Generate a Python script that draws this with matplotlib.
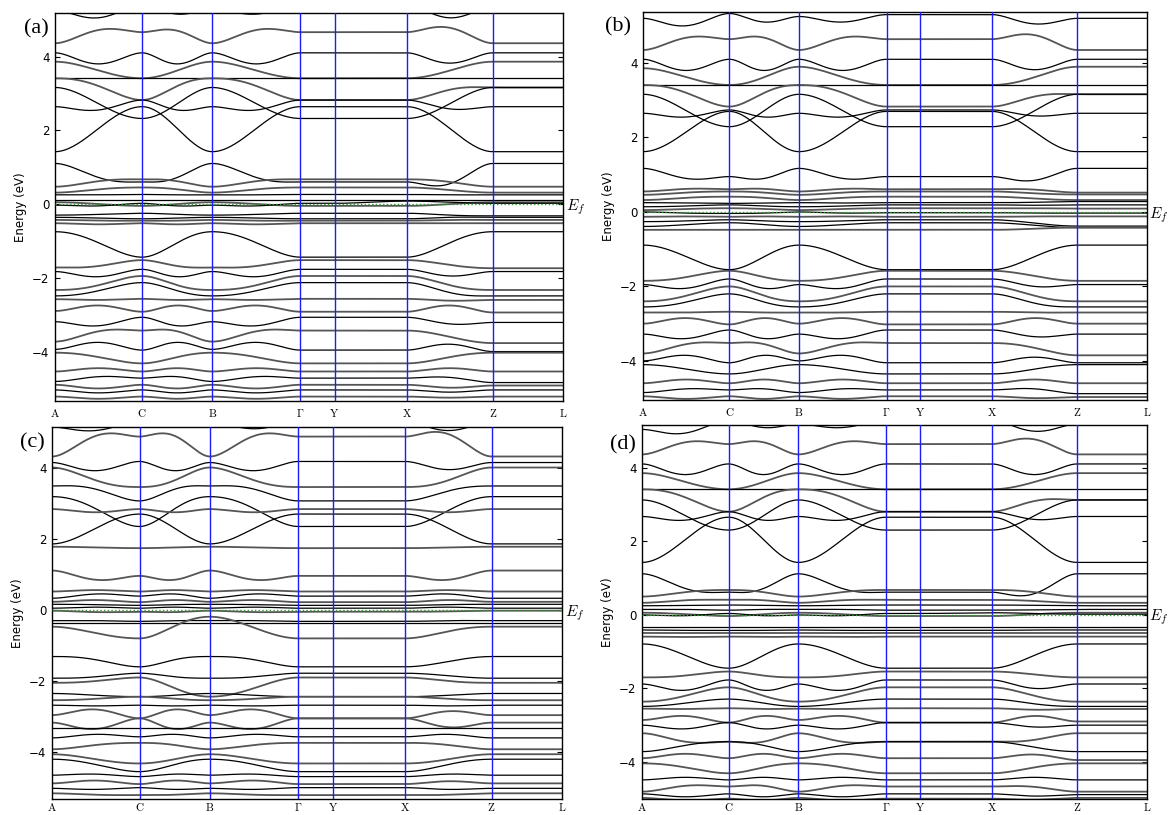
import numpy as np
import matplotlib
matplotlib.use("Agg")
import matplotlib.pyplot as plt

plt.rcParams['mathtext.fontset'] = 'cm'

# k-path (high-symmetry points) and their labels
KTICKS = [0, 87, 157, 245, 279, 351, 437, 507]
KLABELS = [r'$\mathrm{A}$', r'$\mathrm{C}$', r'$\mathrm{B}$', r'$\Gamma$', r'$\mathrm{Y}$',
           r'$\mathrm{X}$', r'$\mathrm{Z}$', r'$\mathrm{L}$']

# Each band: energies (eV) at [A, mid A-C, C, mid C-B, B, mid B-G, G(=Y), X, mid X-Z, Z(=L)]
# spin flag: 'k' = black channel, 'g' = grey channel
bands_a = [
    [5.25, 5.05, 5.40, 5.15, 5.30, 5.15, 5.40, 5.40, 5.05, 5.35],
    [4.36, 4.72, 4.66, 4.70, 4.36, 4.72, 4.66, 4.66, 4.78, 4.36],
    [4.10, 3.80, 4.10, 3.80, 4.10, 3.80, 4.10, 4.10, 3.82, 4.10],
    [3.86, 3.62, 3.41, 3.62, 3.86, 3.62, 3.41, 3.41, 3.62, 3.86],
    [3.41, 3.41, 3.41, 3.41, 3.41, 3.41, 3.41, 3.41, 3.41, 3.41],
    [3.41, 3.20, 2.82, 3.20, 3.41, 3.20, 2.82, 2.82, 3.10, 3.16],
    [3.16, 2.72, 2.32, 2.72, 3.16, 2.72, 2.32, 2.32, 2.72, 3.16],
    [2.64, 2.55, 2.82, 2.55, 2.64, 2.55, 2.82, 2.82, 2.58, 2.64],
    [1.42, 2.05, 2.64, 2.05, 1.42, 2.05, 2.64, 2.64, 2.05, 1.42],
    [1.10, 0.72, 0.60, 0.72, 1.10, 0.72, 0.60, 0.60, 0.55, 1.10],
    [0.47, 0.62, 0.67, 0.62, 0.47, 0.62, 0.67, 0.67, 0.60, 0.47],
    [0.31, 0.40, 0.45, 0.40, 0.31, 0.40, 0.45, 0.45, 0.38, 0.31],
    [0.25, 0.25, 0.26, 0.25, 0.25, 0.25, 0.26, 0.26, 0.25, 0.25],
    [0.11, 0.11, 0.11, 0.11, 0.11, 0.11, 0.11, 0.11, 0.11, 0.11],
    [0.05, 0.00, -0.05, 0.00, 0.05, 0.00, -0.05, -0.05, 0.00, 0.05],
    [-0.03, -0.05, 0.02, -0.05, -0.03, -0.05, 0.02, 0.08, 0.05, 0.02],
    [-0.30, -0.28, -0.25, -0.28, -0.30, -0.28, -0.25, -0.25, -0.30, -0.32],
    [-0.36, -0.38, -0.40, -0.38, -0.36, -0.38, -0.40, -0.40, -0.36, -0.36],
    [-0.43, -0.45, -0.45, -0.45, -0.43, -0.45, -0.45, -0.45, -0.43, -0.43],
    [-0.52, -0.55, -0.52, -0.55, -0.52, -0.55, -0.52, -0.52, -0.52, -0.52],
    [-0.75, -1.05, -1.44, -1.05, -0.75, -1.05, -1.44, -1.44, -1.05, -0.75],
    [-1.72, -1.68, -1.52, -1.68, -1.72, -1.68, -1.52, -1.52, -1.65, -1.74],
    [-1.83, -1.97, -1.77, -1.97, -1.83, -1.97, -1.77, -1.77, -1.95, -1.83],
    [-2.33, -2.20, -1.95, -2.20, -2.33, -2.20, -1.95, -1.95, -2.20, -2.33],
    [-2.49, -2.35, -2.13, -2.35, -2.49, -2.35, -2.13, -2.13, -2.40, -2.49],
    [-2.58, -2.60, -2.57, -2.60, -2.58, -2.60, -2.57, -2.57, -2.62, -2.60],
    [-2.90, -2.75, -2.92, -2.75, -2.90, -2.75, -2.92, -2.92, -2.75, -2.94],
    [-3.19, -3.30, -3.07, -3.30, -3.19, -3.30, -3.07, -3.07, -3.25, -3.21],
    [-3.73, -3.45, -3.43, -3.45, -3.73, -3.45, -3.43, -3.43, -3.60, -3.77],
    [-3.94, -3.75, -3.96, -3.75, -3.94, -3.75, -3.96, -3.96, -3.80, -4.00],
    [-4.03, -4.15, -4.32, -4.15, -4.03, -4.15, -4.32, -4.32, -4.15, -4.03],
    [-4.54, -4.45, -4.54, -4.45, -4.54, -4.45, -4.54, -4.54, -4.45, -4.54],
    [-4.81, -4.68, -4.72, -4.68, -4.81, -4.68, -4.72, -4.72, -4.70, -4.84],
    [-4.90, -5.00, -4.90, -5.00, -4.90, -5.00, -4.90, -4.90, -4.98, -4.92],
    [-5.04, -5.12, -5.04, -5.12, -5.04, -5.12, -5.04, -5.04, -5.10, -5.04],
    [-5.22, -5.28, -5.22, -5.28, -5.22, -5.28, -5.22, -5.22, -5.25, -5.22],
]
spin_a = ['k', 'g', 'k', 'g', 'k', 'g', 'k', 'k', 'k', 'k', 'g', 'g', 'k', 'k', 'g', 'k',
          'k', 'k', 'g', 'g', 'k', 'g', 'k', 'g', 'k', 'g', 'g', 'k', 'g', 'k', 'g', 'g',
          'k', 'g', 'k', 'g']

bands_b = [
    [5.20, 5.00, 5.33, 5.10, 5.25, 5.10, 5.30, 5.30, 5.05, 5.20],
    [4.35, 4.68, 4.64, 4.68, 4.35, 4.68, 4.64, 4.64, 4.75, 4.35],
    [4.10, 3.80, 4.10, 3.80, 4.10, 3.80, 4.10, 4.10, 3.82, 4.10],
    [3.86, 3.62, 3.41, 3.62, 3.90, 3.62, 3.41, 3.41, 3.62, 3.90],
    [3.41, 3.41, 3.41, 3.41, 3.41, 3.41, 3.41, 3.41, 3.41, 3.41],
    [3.41, 3.20, 2.83, 3.20, 3.41, 3.20, 2.83, 2.83, 3.10, 3.16],
    [3.16, 2.72, 2.29, 2.72, 3.16, 2.72, 2.29, 2.29, 2.72, 3.16],
    [2.65, 2.55, 2.74, 2.55, 2.65, 2.55, 2.74, 2.74, 2.58, 2.65],
    [1.62, 2.15, 2.70, 2.15, 1.62, 2.15, 2.70, 2.70, 2.15, 1.62],
    [1.17, 0.90, 0.95, 0.90, 1.17, 0.90, 0.95, 0.95, 0.85, 1.17],
    [0.55, 0.62, 0.61, 0.62, 0.55, 0.62, 0.61, 0.61, 0.60, 0.52],
    [0.46, 0.52, 0.55, 0.52, 0.46, 0.52, 0.55, 0.55, 0.50, 0.47],
    [0.32, 0.38, 0.41, 0.38, 0.32, 0.38, 0.41, 0.41, 0.36, 0.32],
    [0.25, 0.24, 0.23, 0.24, 0.25, 0.24, 0.25, 0.25, 0.26, 0.28],
    [0.14, 0.16, 0.19, 0.16, 0.14, 0.16, 0.19, 0.19, 0.18, 0.19],
    [0.05, 0.08, 0.10, 0.08, 0.05, 0.08, 0.10, 0.10, 0.10, 0.09],
    [0.00, -0.03, -0.04, -0.03, 0.00, -0.03, -0.02, -0.02, -0.03, -0.03],
    [-0.13, -0.12, -0.13, -0.12, -0.13, -0.12, -0.13, -0.13, -0.12, -0.12],
    [-0.26, -0.24, -0.21, -0.24, -0.26, -0.24, -0.21, -0.21, -0.30, -0.38],
    [-0.39, -0.34, -0.29, -0.34, -0.39, -0.34, -0.29, -0.29, -0.36, -0.42],
    [-0.48, -0.48, -0.48, -0.48, -0.48, -0.48, -0.48, -0.48, -0.45, -0.42],
    [-0.89, -1.20, -1.55, -1.20, -0.89, -1.20, -1.55, -1.55, -1.20, -0.89],
    [-1.85, -1.75, -1.58, -1.75, -1.85, -1.75, -1.58, -1.58, -1.72, -1.85],
    [-1.95, -2.05, -1.80, -2.05, -1.95, -2.05, -1.80, -1.80, -2.00, -1.95],
    [-2.40, -2.25, -2.00, -2.25, -2.40, -2.25, -2.00, -2.00, -2.25, -2.40],
    [-2.55, -2.42, -2.20, -2.42, -2.55, -2.42, -2.20, -2.20, -2.45, -2.55],
    [-2.70, -2.70, -2.68, -2.70, -2.70, -2.70, -2.68, -2.68, -2.70, -2.70],
    [-3.00, -2.85, -3.02, -2.85, -3.00, -2.85, -3.02, -3.02, -2.85, -3.00],
    [-3.28, -3.40, -3.17, -3.40, -3.28, -3.40, -3.17, -3.17, -3.35, -3.28],
    [-3.80, -3.55, -3.52, -3.55, -3.80, -3.55, -3.52, -3.52, -3.65, -3.85],
    [-4.00, -3.85, -4.05, -3.85, -4.00, -3.85, -4.05, -4.05, -3.90, -4.05],
    [-4.10, -4.22, -4.35, -4.22, -4.10, -4.22, -4.35, -4.35, -4.22, -4.10],
    [-4.60, -4.50, -4.60, -4.50, -4.60, -4.50, -4.60, -4.60, -4.50, -4.60],
    [-4.85, -4.75, -4.78, -4.75, -4.85, -4.75, -4.78, -4.78, -4.75, -4.88],
    [-4.95, -5.02, -4.95, -5.02, -4.95, -5.02, -4.95, -4.95, -5.00, -4.97],
]
spin_b = ['k', 'g', 'k', 'g', 'k', 'g', 'k', 'k', 'k', 'k', 'g', 'g', 'g', 'k', 'k', 'g',
          'k', 'g', 'k', 'k', 'g', 'k', 'g', 'k', 'g', 'k', 'g', 'g', 'k', 'g', 'k', 'k',
          'g', 'k', 'g']

bands_c = [
    [5.15, 5.05, 5.30, 5.20, 5.30, 5.10, 5.30, 5.30, 5.05, 5.30],
    [4.32, 4.90, 4.88, 4.90, 4.32, 4.90, 4.88, 4.88, 4.95, 4.32],
    [4.15, 3.92, 4.18, 3.92, 4.15, 3.92, 4.18, 4.18, 3.95, 4.15],
    [4.01, 3.65, 3.46, 3.65, 4.01, 3.65, 3.46, 3.46, 3.65, 4.01],
    [3.49, 3.40, 3.07, 3.40, 3.49, 3.40, 3.07, 3.07, 3.35, 3.49],
    [3.19, 2.85, 2.35, 2.85, 3.19, 2.85, 2.35, 2.35, 2.80, 3.19],
    [2.84, 2.75, 2.84, 2.75, 2.84, 2.75, 2.84, 2.84, 2.75, 2.84],
    [1.86, 2.30, 2.70, 2.30, 1.86, 2.30, 2.70, 2.70, 2.30, 1.86],
    [1.78, 1.76, 1.74, 1.76, 1.78, 1.76, 1.74, 1.74, 1.76, 1.78],
    [1.11, 0.85, 0.96, 0.85, 1.11, 0.85, 0.96, 0.96, 0.85, 1.11],
    [0.52, 0.56, 0.52, 0.56, 0.52, 0.56, 0.52, 0.52, 0.56, 0.52],
    [0.33, 0.45, 0.39, 0.45, 0.33, 0.45, 0.39, 0.39, 0.45, 0.33],
    [0.23, 0.28, 0.22, 0.28, 0.23, 0.28, 0.22, 0.22, 0.28, 0.23],
    [0.16, 0.15, 0.13, 0.15, 0.16, 0.15, 0.13, 0.13, 0.15, 0.16],
    [0.05, 0.08, 0.05, 0.08, 0.05, 0.08, 0.05, 0.05, 0.08, 0.05],
    [-0.02, -0.06, -0.05, -0.06, -0.02, -0.06, -0.05, -0.05, -0.04, -0.02],
    [-0.30, -0.30, -0.32, -0.30, -0.30, -0.30, -0.32, -0.32, -0.30, -0.30],
    [-0.38, -0.38, -0.38, -0.38, -0.38, -0.38, -0.38, -0.38, -0.38, -0.38],
    [-0.47, -0.65, -0.80, -0.45, -0.19, -0.50, -0.80, -0.80, -0.60, -0.47],
    [-1.31, -1.40, -1.60, -1.40, -1.31, -1.40, -1.60, -1.60, -1.45, -1.31],
    [-1.92, -1.88, -1.78, -1.88, -1.92, -1.88, -1.78, -1.78, -1.85, -1.92],
    [-2.05, -2.00, -1.90, -2.20, -2.44, -2.20, -1.90, -1.90, -2.00, -2.05],
    [-2.35, -2.40, -2.44, -2.40, -2.35, -2.40, -2.44, -2.44, -2.40, -2.35],
    [-2.54, -2.50, -2.44, -2.50, -2.54, -2.50, -2.44, -2.44, -2.50, -2.54],
    [-2.68, -2.70, -2.68, -2.70, -2.68, -2.70, -2.68, -2.68, -2.70, -2.68],
    [-2.96, -2.80, -3.05, -2.80, -2.96, -2.80, -3.05, -3.05, -2.85, -2.96],
    [-3.17, -3.35, -3.05, -3.35, -3.17, -3.35, -3.05, -3.05, -3.30, -3.17],
    [-3.31, -3.31, -3.31, -3.31, -3.31, -3.31, -3.31, -3.31, -3.31, -3.31],
    [-3.60, -3.50, -3.57, -3.50, -3.60, -3.50, -3.57, -3.57, -3.50, -3.60],
    [-3.92, -3.80, -3.74, -3.80, -3.92, -3.80, -3.74, -3.74, -3.80, -3.92],
    [-4.06, -4.20, -4.32, -4.20, -4.06, -4.20, -4.32, -4.32, -4.20, -4.06],
    [-4.20, -4.35, -4.55, -4.35, -4.20, -4.35, -4.55, -4.55, -4.35, -4.20],
    [-4.65, -4.62, -4.69, -4.62, -4.65, -4.62, -4.69, -4.69, -4.62, -4.65],
    [-4.88, -4.80, -4.90, -4.80, -4.88, -4.80, -4.90, -4.90, -4.82, -4.88],
    [-5.02, -5.05, -5.00, -5.05, -5.02, -5.05, -5.00, -5.00, -5.05, -5.02],
    [-5.16, -5.20, -5.21, -5.20, -5.16, -5.20, -5.21, -5.21, -5.20, -5.16],
]
spin_c = ['k', 'g', 'k', 'g', 'k', 'k', 'g', 'k', 'g', 'g', 'g', 'k', 'g', 'k', 'k', 'g',
          'k', 'k', 'g', 'k', 'k', 'g', 'k', 'g', 'k', 'g', 'g', 'k', 'k', 'g', 'g', 'k',
          'k', 'g', 'k', 'g']

bands_d = [
    [5.05, 4.95, 5.30, 5.10, 5.20, 5.10, 5.30, 5.30, 5.00, 5.20],
    [4.37, 4.70, 4.65, 4.70, 4.37, 4.70, 4.65, 4.65, 4.78, 4.37],
    [4.11, 3.82, 4.11, 3.82, 4.11, 3.82, 4.11, 4.11, 3.82, 4.11],
    [3.86, 3.62, 3.42, 3.62, 3.86, 3.62, 3.42, 3.42, 3.62, 3.86],
    [3.42, 3.42, 3.42, 3.42, 3.42, 3.42, 3.42, 3.42, 3.42, 3.42],
    [3.42, 3.20, 2.81, 3.20, 3.42, 3.20, 2.81, 2.81, 3.10, 3.13],
    [3.13, 2.70, 2.31, 2.70, 3.13, 2.70, 2.31, 2.31, 2.70, 3.13],
    [2.68, 2.58, 2.81, 2.58, 2.68, 2.58, 2.81, 2.81, 2.60, 2.68],
    [1.43, 2.05, 2.66, 2.05, 1.43, 2.05, 2.66, 2.66, 2.05, 1.43],
    [1.12, 0.72, 0.62, 0.72, 1.12, 0.72, 0.62, 0.62, 0.58, 1.12],
    [0.50, 0.62, 0.68, 0.62, 0.50, 0.62, 0.68, 0.68, 0.62, 0.50],
    [0.33, 0.40, 0.41, 0.40, 0.33, 0.40, 0.41, 0.41, 0.38, 0.33],
    [0.25, 0.26, 0.27, 0.26, 0.25, 0.26, 0.27, 0.27, 0.26, 0.25],
    [0.15, 0.15, 0.13, 0.15, 0.15, 0.15, 0.13, 0.13, 0.14, 0.15],
    [0.06, 0.02, -0.03, 0.02, 0.06, 0.02, -0.03, -0.03, 0.02, 0.06],
    [0.00, -0.02, 0.04, -0.02, 0.00, -0.02, 0.04, 0.06, 0.04, 0.02],
    [-0.32, -0.32, -0.32, -0.32, -0.32, -0.32, -0.32, -0.32, -0.32, -0.32],
    [-0.41, -0.42, -0.42, -0.42, -0.41, -0.42, -0.42, -0.42, -0.41, -0.41],
    [-0.50, -0.50, -0.50, -0.50, -0.50, -0.50, -0.50, -0.50, -0.50, -0.50],
    [-0.59, -0.60, -0.59, -0.60, -0.59, -0.60, -0.59, -0.59, -0.59, -0.59],
    [-0.79, -1.10, -1.45, -1.10, -0.79, -1.10, -1.45, -1.45, -1.10, -0.79],
    [-1.70, -1.65, -1.54, -1.65, -1.70, -1.65, -1.54, -1.54, -1.62, -1.70],
    [-1.88, -2.05, -1.77, -2.05, -1.88, -2.05, -1.77, -1.77, -2.00, -1.88],
    [-2.36, -2.20, -1.97, -2.20, -2.36, -2.20, -1.97, -1.97, -2.20, -2.36],
    [-2.49, -2.40, -2.29, -2.40, -2.49, -2.40, -2.29, -2.29, -2.42, -2.49],
    [-2.55, -2.56, -2.54, -2.56, -2.55, -2.56, -2.54, -2.54, -2.58, -2.56],
    [-2.86, -2.75, -2.93, -2.75, -2.86, -2.75, -2.93, -2.93, -2.75, -2.90],
    [-3.00, -3.10, -2.93, -3.10, -3.00, -3.10, -2.93, -2.93, -3.05, -3.00],
    [-3.22, -3.45, -3.45, -3.45, -3.22, -3.45, -3.45, -3.45, -3.40, -3.22],
    [-3.72, -3.55, -3.45, -3.55, -3.72, -3.55, -3.45, -3.45, -3.60, -3.72],
    [-3.90, -3.78, -3.90, -3.78, -3.90, -3.78, -3.90, -3.90, -3.80, -3.95],
    [-4.04, -4.15, -4.31, -4.15, -4.04, -4.15, -4.31, -4.31, -4.15, -4.04],
    [-4.49, -4.42, -4.49, -4.42, -4.49, -4.42, -4.49, -4.49, -4.42, -4.49],
    [-4.81, -4.65, -4.67, -4.65, -4.81, -4.65, -4.67, -4.67, -4.68, -4.81],
    [-4.87, -4.95, -4.87, -4.95, -4.87, -4.95, -4.87, -4.87, -4.93, -4.89],
    [-4.98, -5.05, -5.00, -5.05, -4.98, -5.05, -5.00, -5.00, -5.03, -4.98],
]
spin_d = ['k', 'g', 'k', 'g', 'k', 'g', 'k', 'k', 'k', 'k', 'g', 'g', 'k', 'k', 'g', 'k',
          'k', 'k', 'g', 'g', 'k', 'g', 'k', 'g', 'k', 'g', 'g', 'k', 'g', 'k', 'g', 'g',
          'k', 'g', 'k', 'g']

panel_labels = ['(a)', '(b)', '(c)', '(d)']
ylims = [(-5.34, 5.18), (-5.05, 5.37), (-5.32, 5.15), (-5.01, 5.17)]
yticks = [-4, -2, 0, 2, 4]

COLORS = {'k': '#000000', 'g': '#555555'}
WIDTHS = {'k': 0.9, 'g': 1.3}


def segment(x0, x1, y0, y1, ym, n=40):
    t = np.linspace(0.0, 1.0, n)
    s = 3 * t ** 2 - 2 * t ** 3
    bump = 16 * t ** 2 * (1 - t) ** 2
    return x0 + (x1 - x0) * t, y0 + (y1 - y0) * s + (ym - 0.5 * (y0 + y1)) * bump


def band_path(row, kt):
    A, m1, C, m2, B, m3, G, X, m4, Z = row
    pieces = [(kt[0], kt[1], A, C, m1), (kt[1], kt[2], C, B, m2), (kt[2], kt[3], B, G, m3),
              (kt[3], kt[4], G, G, G), (kt[4], kt[5], G, X, 0.5 * (G + X)),
              (kt[5], kt[6], X, Z, m4), (kt[6], kt[7], Z, Z, Z)]
    xs, ys = [], []
    for p in pieces:
        x, y = segment(*p)
        xs.append(x)
        ys.append(y)
    return np.concatenate(xs), np.concatenate(ys)


fig = plt.figure(figsize=(11.68, 8.15), dpi=100)
W, H = 1168.0, 815.0
boxes = [(55, 13, 563, 401), (643, 12, 1147, 400), (52, 427, 562, 799), (642, 425, 1147, 799)]
all_bands = [(bands_a, spin_a), (bands_b, spin_b), (bands_c, spin_c), (bands_d, spin_d)]
label_xy = [(36, 29), (618, 27), (32, 443), (623, 445)]
ef_xy = [(566, 207), (1149, 215), (565, 613), (1149, 617)]
xpad = [4, 4, 1.5, 1.5]

for i, (box, (bands, spins)) in enumerate(zip(boxes, all_bands)):
    l, t, r, b = box
    ax = fig.add_axes([l / W, (H - b) / H, (r - l) / W, (b - t) / H])
    for row, sp in zip(bands, spins):
        x, y = band_path(row, KTICKS)
        ax.plot(x, y, color=COLORS[sp], lw=WIDTHS[sp], solid_capstyle='round')
    for k in KTICKS[1:-1]:
        ax.axvline(k, color='#1a1aff', lw=1.0, zorder=5)
    ax.axhline(0.0, color='#2ca02c', lw=1.0, ls=':', zorder=6)
    ax.set_xlim(KTICKS[0], KTICKS[-1])
    ax.set_ylim(*ylims[i])
    ax.set_xticks(KTICKS)
    ax.set_xticklabels(KLABELS, fontsize=8)
    ax.set_yticks(yticks)
    ax.tick_params(axis='x', length=0, pad=xpad[i])
    ax.tick_params(axis='y', direction='in', length=3.5, width=0.8, labelsize=8.5,
                   left=True, right=True, pad=4)
    ax.set_ylabel('Energy (eV)', fontsize=8.5, labelpad=4)
    for s in ax.spines.values():
        s.set_linewidth(1.0)
    # panel label and Fermi level label
    fig.text(label_xy[i][0] / W, 1 - label_xy[i][1] / H, panel_labels[i],
             fontsize=16, family='Liberation Serif', ha='center', va='center')
    fig.text(ef_xy[i][0] / W, 1 - ef_xy[i][1] / H, r'$E_f$',
             fontsize=11, ha='left', va='center')

fig.savefig('out.png', dpi=100)
